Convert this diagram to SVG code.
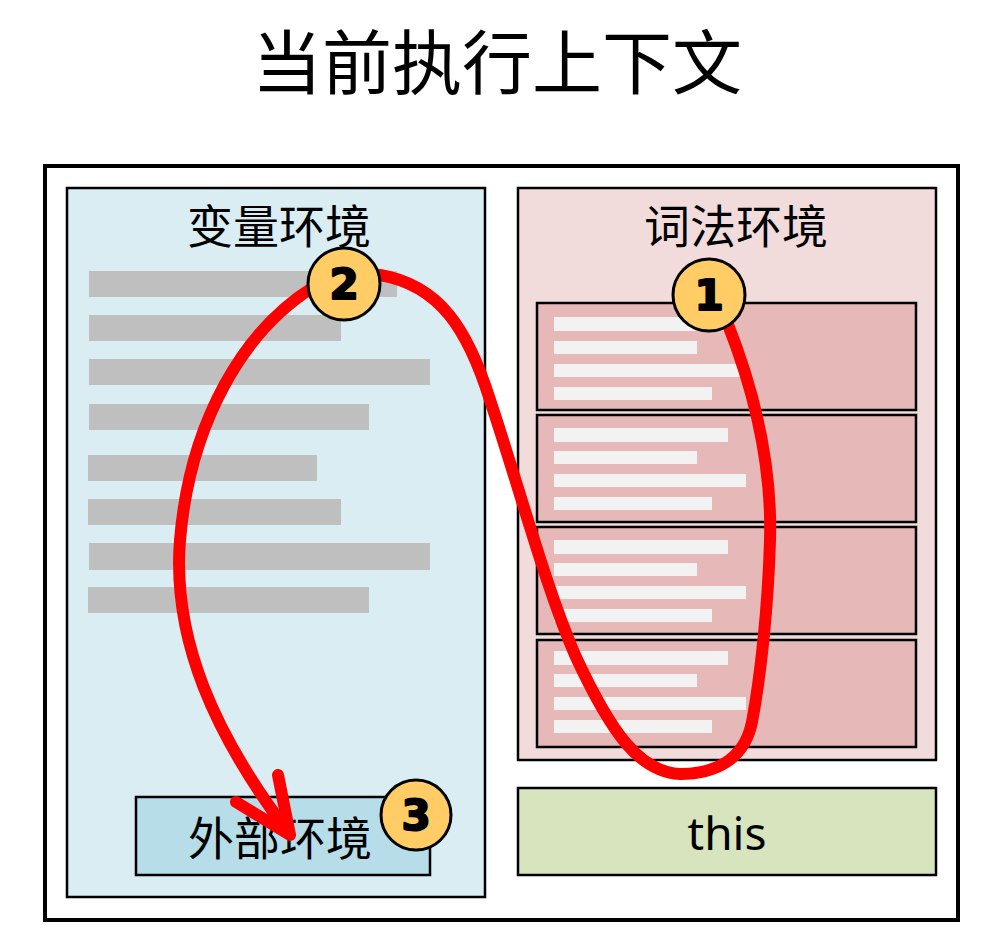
<svg xmlns="http://www.w3.org/2000/svg" width="999" height="950" viewBox="0 0 999 950">
<style>
.cjk{font-family:"Noto Sans CJK SC","Noto Sans",sans-serif;fill:#000;text-anchor:middle}
.gbar{fill:#BFBFBF}
.wbar{fill:#F2F2F2}
.rbox{fill:#E6B9B8;stroke:#000;stroke-width:2.5}
.red{fill:none;stroke:#FF0000;stroke-width:12;stroke-linecap:round;stroke-linejoin:round}
.badge circle{fill:#FFCC66;stroke:#000;stroke-width:3}
.badge text{font-family:"DejaVu Sans","Liberation Sans",sans-serif;font-weight:bold;font-size:42px;text-anchor:middle;fill:#000;stroke:#000;stroke-width:2;stroke-linejoin:round}
</style>
<rect width="999" height="950" fill="#fff"/>
<g id="title"><text class="cjk" x="497" y="89" font-size="70">当前执行上下文</text></g>
<g id="context"><rect x="45" y="166" width="913" height="754" fill="#fff" stroke="#000" stroke-width="4"/></g>
<g id="variable-env">
<rect x="67" y="188" width="418" height="709" fill="#DAEDF3" stroke="#000" stroke-width="2.5"/>
<text class="cjk" x="279" y="243" font-size="46">变量环境</text>
<rect class="gbar" x="89" y="271" width="308" height="26"/>
<rect class="gbar" x="89" y="315" width="252" height="26"/>
<rect class="gbar" x="89" y="359" width="341" height="26"/>
<rect class="gbar" x="89" y="404" width="280" height="26"/>
<rect class="gbar" x="88" y="455" width="229" height="26"/>
<rect class="gbar" x="88" y="499" width="253" height="26"/>
<rect class="gbar" x="89" y="543" width="341" height="27"/>
<rect class="gbar" x="88" y="587" width="281" height="26"/>
</g>
<g id="outer-env">
<rect x="136" y="797" width="294" height="78" fill="#B7DDE8" stroke="#000" stroke-width="2.5"/>
<text class="cjk" x="280" y="855" font-size="46">外部环境</text>
</g>
<g id="lexical-env">
<rect x="518" y="188" width="418" height="572" fill="#F2DCDB" stroke="#000" stroke-width="2.5"/>
<text class="cjk" x="736" y="243" font-size="46">词法环境</text>
<g id="record1"><rect class="rbox" x="537" y="303" width="379" height="107"/>
<rect class="wbar" x="554" y="317" width="174" height="14"/><rect class="wbar" x="554" y="341" width="143" height="13"/><rect class="wbar" x="554" y="364" width="192" height="13"/><rect class="wbar" x="554" y="387" width="158" height="13"/></g>
<g id="record2"><rect class="rbox" x="537" y="415" width="379" height="107"/>
<rect class="wbar" x="554" y="428" width="174" height="14"/><rect class="wbar" x="554" y="451" width="143" height="13"/><rect class="wbar" x="554" y="474" width="192" height="13"/><rect class="wbar" x="554" y="497" width="158" height="13"/></g>
<g id="record3"><rect class="rbox" x="537" y="527" width="379" height="107"/>
<rect class="wbar" x="554" y="540" width="174" height="14"/><rect class="wbar" x="554" y="563" width="143" height="13"/><rect class="wbar" x="554" y="586" width="192" height="13"/><rect class="wbar" x="554" y="609" width="158" height="13"/></g>
<g id="record4"><rect class="rbox" x="537" y="640" width="379" height="107"/>
<rect class="wbar" x="554" y="651" width="174" height="14"/><rect class="wbar" x="554" y="674" width="143" height="13"/><rect class="wbar" x="554" y="697" width="192" height="13"/><rect class="wbar" x="554" y="720" width="158" height="13"/></g>
</g>
<g id="this-box">
<rect x="518" y="788" width="418" height="87" fill="#D7E4BD" stroke="#000" stroke-width="2.5"/>
<text x="727" y="850" font-family="Noto Sans,'Open Sans',sans-serif" font-size="46" text-anchor="middle" fill="#000">this</text>
</g>
<g id="connectors">
<path class="red" d="M 727 322 C 758 400, 772 470, 770 540 C 768 610, 760 680, 752 722 C 744 762, 712 774, 680 774 C 640 772, 612 735, 575 655 C 545 585, 520 490, 490 400 C 468 330, 440 285, 380 275"/>
<path class="red" d="M 312 288 C 245 330, 190 420, 180 540 C 172 640, 215 735, 288 832"/>
<path class="red" d="M 236 802 L 290 835 L 278 775"/>
</g>
<g id="badge1" class="badge"><circle cx="709" cy="295" r="36"/><text x="709" y="310">1</text></g>
<g id="badge2" class="badge"><circle cx="344" cy="284" r="36"/><text x="344" y="299">2</text></g>
<g id="badge3" class="badge"><circle cx="416" cy="815" r="35"/><text x="416" y="830">3</text></g>
</svg>
